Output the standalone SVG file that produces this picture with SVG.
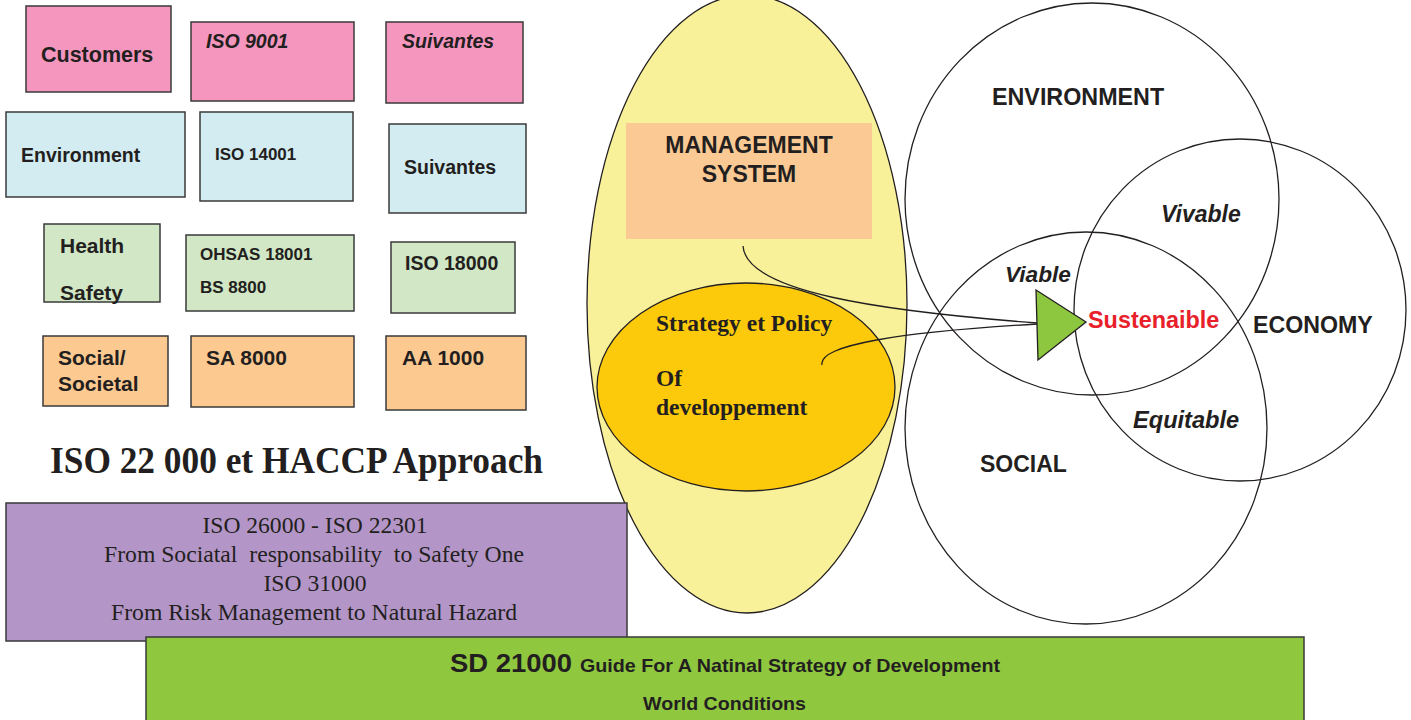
<svg xmlns="http://www.w3.org/2000/svg" width="1411" height="720" viewBox="0 0 1411 720">
  <style>
    .box { stroke: #3a3a3a; stroke-width: 1.5; }
    .pink { fill: #F596BF; }
    .blue { fill: #D3ECF1; }
    .lgreen { fill: #D1E7C5; }
    .peach { fill: #FCC991; }
    .sans { font-family: "Liberation Sans", Arial, sans-serif; font-weight: bold; fill: #231F20; }
    .serif { font-family: "Liberation Serif", "Times New Roman", serif; fill: #231F20; }
    .it { font-style: italic; }
    .ring { fill: none; stroke: #231F20; stroke-width: 1.3; }
    .link { fill: none; stroke: #231F20; stroke-width: 1.3; }
  </style>

  <rect width="1411" height="720" fill="#ffffff"/>

  <!-- Standards grid, row 1 -->
  <g id="customers"><rect class="box pink" x="26" y="6" width="145" height="86"/><text class="sans" x="41" y="62" font-size="21.5">Customers</text></g>
  <g id="iso9001"><rect class="box pink" x="191" y="22" width="163" height="79"/><text class="sans it" x="206" y="48" font-size="19.5">ISO 9001</text></g>
  <g id="suivantes-1"><rect class="box pink" x="386" y="22" width="137" height="81"/><text class="sans it" x="402" y="48" font-size="19.5">Suivantes</text></g>

  <!-- row 2 -->
  <g id="environment"><rect class="box blue" x="6" y="112" width="179" height="85"/><text class="sans" x="21" y="162" font-size="19.5">Environment</text></g>
  <g id="iso14001"><rect class="box blue" x="200" y="112" width="153" height="89"/><text class="sans" x="215" y="160" font-size="17">ISO 14001</text></g>
  <g id="suivantes-2"><rect class="box blue" x="389" y="124" width="137" height="89"/><text class="sans" x="404" y="174" font-size="19.5">Suivantes</text></g>

  <!-- row 3 -->
  <g id="health-safety"><rect class="box lgreen" x="44" y="224" width="116" height="78"/><text class="sans" x="60" y="253" font-size="21">Health</text><text class="sans" x="60" y="300" font-size="21">Safety</text></g>
  <g id="ohsas"><rect class="box lgreen" x="186" y="235" width="168" height="76"/><text class="sans" x="200" y="260" font-size="17">OHSAS 18001</text><text class="sans" x="200" y="293" font-size="17">BS 8800</text></g>
  <g id="iso18000"><rect class="box lgreen" x="391" y="242" width="124" height="71"/><text class="sans" x="405" y="270" font-size="19.5">ISO 18000</text></g>

  <!-- row 4 -->
  <g id="social-societal"><rect class="box peach" x="43" y="336" width="125" height="70"/><text class="sans" x="58" y="365" font-size="21">Social/</text><text class="sans" x="58" y="391" font-size="21">Societal</text></g>
  <g id="sa8000"><rect class="box peach" x="191" y="336" width="163" height="71"/><text class="sans" x="206" y="365" font-size="21">SA 8000</text></g>
  <g id="aa1000"><rect class="box peach" x="386" y="336" width="140" height="74"/><text class="sans" x="402" y="365" font-size="21">AA 1000</text></g>

  <!-- Heading -->
  <g id="haccp-title">
    <text class="serif" x="50" y="473" font-size="37" font-weight="bold" textLength="493" lengthAdjust="spacingAndGlyphs">ISO 22 000 et HACCP Approach</text>
  </g>

  <!-- Management system ellipse -->
  <g id="management-system">
    <ellipse cx="747" cy="304" rx="160" ry="309" fill="#F8F19A" stroke="#231F20" stroke-width="1.3"/>
    <rect x="626" y="123" width="246" height="116" fill="#FBC993"/>
    <text class="sans" x="749" y="153" font-size="23" text-anchor="middle">MANAGEMENT</text>
    <text class="sans" x="749" y="182" font-size="23" text-anchor="middle">SYSTEM</text>
  </g>

  <g id="strategy-policy">
    <ellipse cx="746" cy="387" rx="149" ry="104" fill="#FCC90B" stroke="#231F20" stroke-width="1.3"/>
    <text class="serif" x="656" y="331" font-size="23.5" font-weight="bold">Strategy et Policy</text>
    <text class="serif" x="656" y="386" font-size="23.5" font-weight="bold">Of</text>
    <text class="serif" x="656" y="415" font-size="23.5" font-weight="bold">developpement</text>
  </g>

  <!-- Societal responsibility / risk box -->
  <g id="iso26000">
    <rect class="box" x="6" y="503" width="621" height="138" fill="#B396C7"/>
    <g class="serif" font-size="24" text-anchor="middle">
      <text x="315" y="533" textLength="225" lengthAdjust="spacingAndGlyphs">ISO 26000 - ISO 22301</text>
      <text x="314" y="562" textLength="420" lengthAdjust="spacingAndGlyphs" xml:space="preserve" style="white-space:pre">From Sociatal  responsability  to Safety One</text>
      <text x="315" y="591" textLength="103" lengthAdjust="spacingAndGlyphs">ISO 31000</text>
      <text x="314" y="620" textLength="406" lengthAdjust="spacingAndGlyphs">From Risk Management to Natural Hazard</text>
    </g>
  </g>

  <!-- National strategy box -->
  <g id="sd21000">
    <rect class="box" x="146" y="637" width="1158" height="90" fill="#8FC73F"/>
    <text class="sans" x="450" y="672" font-size="25" textLength="122" lengthAdjust="spacingAndGlyphs">SD 21000</text>
    <text class="sans" x="580" y="672" font-size="19" textLength="420" lengthAdjust="spacingAndGlyphs">Guide For A Natinal Strategy of Development</text>
    <text class="sans" x="643" y="710" font-size="19" textLength="163" lengthAdjust="spacingAndGlyphs">World Conditions</text>
  </g>

  <!-- Sustainability circles -->
  <g id="environment-circle"><ellipse class="ring" cx="1092" cy="199" rx="187" ry="196"/><text class="sans" x="992" y="105" font-size="23.3">ENVIRONMENT</text></g>
  <g id="economy-circle"><ellipse class="ring" cx="1240" cy="310" rx="166" ry="171"/><text class="sans" x="1253" y="333" font-size="23.2">ECONOMY</text></g>
  <g id="social-circle"><ellipse class="ring" cx="1086" cy="428" rx="181" ry="196"/><text class="sans" x="980" y="472" font-size="23">SOCIAL</text></g>

  <g id="overlap-labels">
    <text class="sans it" x="1161" y="222" font-size="23">Vivable</text>
    <text class="sans it" x="1005" y="282" font-size="22.7">Viable</text>
    <text class="sans it" x="1133" y="428" font-size="23.6">Equitable</text>
    <text class="sans" x="1088" y="328" font-size="23.4" style="fill:#E8202A">Sustenaible</text>
  </g>

  <!-- Connectors into the pointer -->
  <g id="connectors">
    <path class="link" d="M743,246 C746,292 880,311 1037,323"/>
    <path class="link" d="M822,365 C818,345 900,332 1037,324"/>
  </g>

  <g id="pointer">
    <polygon points="1036,290 1086,322 1038,360" fill="#8DC63F" stroke="#231F20" stroke-width="1.3"/>
  </g>
</svg>
